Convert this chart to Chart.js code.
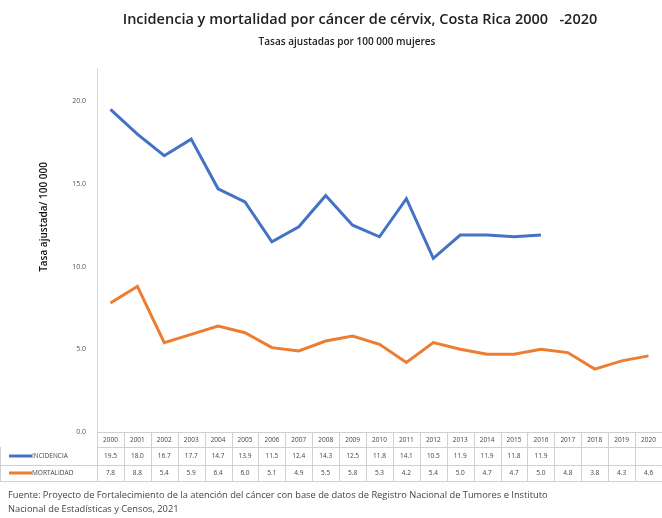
<!DOCTYPE html>
<html><head><meta charset="utf-8">
<script src="https://cdn.jsdelivr.net/npm/chart.js@4/dist/chart.umd.min.js"></script>
<style>html,body{margin:0;padding:0;background:#fff;}#wrap{width:662px;height:518px;position:relative;}</style>
</head><body><div id="wrap"><canvas id="c" width="662" height="518"></canvas></div>
<script>
const years = ['2000','2001','2002','2003','2004','2005','2006','2007','2008','2009','2010','2011','2012','2013','2014','2015','2016','2017','2018','2019','2020'];
const incidencia = [19.5,18.0,16.7,17.7,14.7,13.9,11.5,12.4,14.3,12.5,11.8,14.1,10.5,11.9,11.9,11.8,11.9,null,null,null,null];
const mortalidad = [7.8,8.8,5.4,5.9,6.4,6.0,5.1,4.9,5.5,5.8,5.3,4.2,5.4,5.0,4.7,4.7,5.0,4.8,3.8,4.3,4.6];
const seriesNames = ['INCIDENCIA','MORTALIDAD'];
const yTicks = [0,5,10,15,20];
const titleText = 'Incidencia y mortalidad por cáncer de cérvix, Costa Rica 2000   -2020';
const subtitleText = 'Tasas ajustadas por 100 000 mujeres';
const yTitle = 'Tasa ajustada/ 100 000';
const sourceLines = ['Fuente: Proyecto de Fortalecimiento de la atención del cáncer con base de datos de Registro Nacional de Tumores e Instituto','Nacional de Estadísticas y Censos, 2021'];

const BLUE = '#4472C4', ORANGE = '#ED7D31';
const FONT = '"Open Sans", "Liberation Sans", sans-serif';

const extras = {
  id: 'extras',
  afterDraw(chart) {
    const ctx = chart.ctx;
    const x = chart.scales.x;
    const ca = chart.chartArea;
    ctx.save();
    ctx.fillStyle = '#222';
    ctx.textAlign = 'center';
    ctx.textBaseline = 'middle';
    ctx.font = '600 14.5px ' + FONT;
    ctx.fillText(titleText, 360, 20);
    ctx.font = '600 10px ' + FONT;
    ctx.fillText(subtitleText, 347, 42);
    ctx.save();
    ctx.translate(44, 217);
    ctx.rotate(-Math.PI/2);
    ctx.font = '600 10px ' + FONT;
    ctx.fillStyle = '#111';
    ctx.fillText(yTitle, 0, 0);
    ctx.restore();
    const top = ca.bottom, r1 = top + 15, r2 = r1 + 18, r3 = r2 + 16;
    const half = (x.getPixelForValue(1) - x.getPixelForValue(0)) / 2;
    ctx.strokeStyle = '#d0d0d0';
    ctx.lineWidth = 1;
    ctx.beginPath();
    ctx.moveTo(ca.left, top + 0.5); ctx.lineTo(ca.right, top + 0.5);
    ctx.moveTo(ca.left, r1 + 0.5); ctx.lineTo(ca.right, r1 + 0.5);
    ctx.moveTo(0, r2 + 0.5); ctx.lineTo(ca.right, r2 + 0.5);
    ctx.moveTo(0, r3 + 0.5); ctx.lineTo(ca.right, r3 + 0.5);
    for (let i = 0; i <= years.length; i++) {
      const px = Math.round(x.getPixelForValue(0) - half + i * 2 * half) + 0.5;
      ctx.moveTo(px, top); ctx.lineTo(px, r3);
    }
    ctx.moveTo(0.5, r1); ctx.lineTo(0.5, r3);
    ctx.stroke();
    ctx.fillStyle = '#444';
    ctx.font = '6.5px ' + FONT;
    years.forEach((yr, i) => {
      const px = x.getPixelForValue(i);
      ctx.fillText(yr, px, (top + r1) / 2 + 1);
      if (incidencia[i] != null) ctx.fillText(incidencia[i].toFixed(1), px, (r1 + r2) / 2);
      if (mortalidad[i] != null) ctx.fillText(mortalidad[i].toFixed(1), px, (r2 + r3) / 2);
    });
    const rows = [[(r1 + r2) / 2, BLUE], [(r2 + r3) / 2, ORANGE]];
    rows.forEach((rw, k) => {
      ctx.strokeStyle = rw[1];
      ctx.lineWidth = 3;
      ctx.beginPath();
      ctx.moveTo(9, rw[0]); ctx.lineTo(32, rw[0]);
      ctx.stroke();
      ctx.fillStyle = '#444';
      ctx.textAlign = 'left';
      ctx.font = '6.5px ' + FONT;
      ctx.fillText(seriesNames[k], 32, rw[0]);
    });
    ctx.fillStyle = '#444';
    ctx.textAlign = 'left';
    ctx.font = '9.3px ' + FONT;
    ctx.fillText(sourceLines[0], 8, 495);
    ctx.fillText(sourceLines[1], 8, 509);
    ctx.restore();
  }
};

new Chart(document.getElementById('c'), {
  type: 'line',
  data: {
    labels: years,
    datasets: [
      { label: seriesNames[0], data: incidencia, borderColor: BLUE, backgroundColor: BLUE, borderWidth: 3, pointRadius: 0, tension: 0, spanGaps: false },
      { label: seriesNames[1], data: mortalidad, borderColor: ORANGE, backgroundColor: ORANGE, borderWidth: 3, pointRadius: 0, tension: 0 }
    ]
  },
  options: {
    responsive: false,
    animation: false,
    layout: { padding: { top: 68, bottom: 86, left: 0, right: 0 } },
    plugins: { legend: { display: false }, title: { display: false }, tooltip: { enabled: false } },
    scales: {
      x: { display: false, offset: true },
      y: {
        min: 0, max: 22,
        afterBuildTicks(s) { s.ticks = yTicks.map(v => ({ value: v })); },
        afterFit(s) { s.width = 97; },
        grid: { display: false, drawTicks: false },
        border: { display: true, color: '#d9d9d9', width: 1 },
        ticks: { color: '#555', font: { size: 7, family: FONT }, padding: 11, callback: v => Number(v).toFixed(1) }
      }
    }
  },
  plugins: [extras]
});
</script></body></html>
